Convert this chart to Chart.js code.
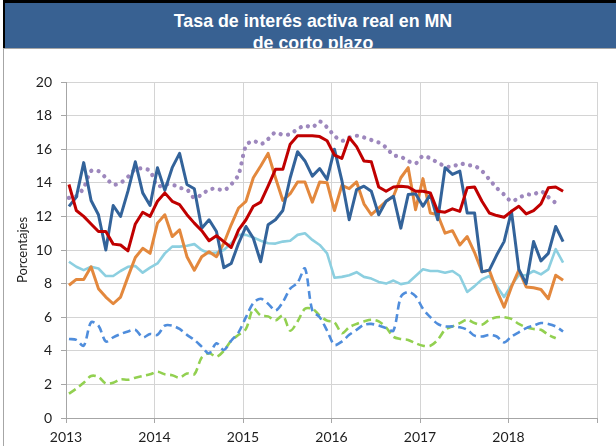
<!DOCTYPE html>
<html lang="es">
<head>
<meta charset="utf-8">
<title>Tasa de interés activa real en MN de corto plazo</title>
<script src="https://cdn.jsdelivr.net/npm/chart.js@4.4.1/dist/chart.umd.min.js"></script>
<style>
  html, body { margin: 0; padding: 0; background: #fff; }
  #page { position: relative; width: 616px; height: 446px; overflow: hidden; background: #fff; }
  #frame { position: absolute; left: 3px; top: 48px; width: 640px; height: 420px; border: 1px solid #a6a6a6; background: #fff; }
  #band { position: absolute; left: 3px; top: 0; width: 640px; height: 48px; background: #000; }
  #bar { position: absolute; left: 5px; top: 3px; width: 640px; height: 45px; background: #386192; overflow: hidden; }
  #title { position: absolute; left: 0; top: 6.5px; width: 616px; text-align: center; color: #fff;
           font: bold 17.8px "Liberation Sans", Arial, sans-serif; line-height: 22px; }
  #chart { position: absolute; left: 0; top: 0; }
</style>
</head>
<body>
<div id="page">
  <div id="frame"></div>
  <div id="band"></div>
  <div id="bar"><div id="title">Tasa de interés activa real en MN<br>de corto plazo</div></div>
  <canvas id="chart" width="616" height="446"></canvas>
</div>
<script>
// Monthly observations, January 2013 to August 2018 (percent).
const years = ['2013', '2014', '2015', '2016', '2017', '2018'];
const yTicks = [0, 2, 4, 6, 8, 10, 12, 14, 16, 18, 20];

const serieRoja = [13.9, 12.35, 12.0, 11.55, 11.1, 11.1, 10.35, 10.3, 9.95, 11.55, 12.25, 12.0,
  12.9, 13.4, 12.9, 12.7, 12.1, 11.6, 11.15, 10.55, 10.85, 10.5, 10.15, 11.2,
  11.8, 12.6, 12.85, 13.8, 14.8, 14.8, 16.3, 16.8, 16.8, 16.8, 16.75, 16.5,
  15.65, 15.45, 16.7, 16.15, 15.3, 15.25, 13.75, 13.5, 13.75, 13.8, 13.75, 13.5,
  13.5, 13.4, 12.3, 12.25, 12.45, 12.3, 13.7, 13.75, 12.9, 12.2, 12.05, 11.95,
  12.3, 12.6, 12.15, 12.35, 12.75, 13.7, 13.75, 13.5];

const serieAzul = [12.6, 13.15, 15.2, 12.95, 12.1, 10.0, 12.65, 12.0, 13.5, 15.25, 13.4, 12.65,
  14.9, 13.55, 14.9, 15.75, 13.9, 13.65, 11.3, 11.8, 11.1, 8.95, 9.2, 10.4,
  11.4, 10.7, 9.3, 11.5, 11.8, 12.35, 14.3, 15.85, 15.3, 14.4, 14.85, 14.2,
  16.0, 14.15, 11.8, 13.6, 13.8, 13.5, 12.1, 12.9, 13.2, 11.3, 13.3, 13.35,
  12.6, 13.3, 11.8, 14.9, 14.5, 14.7, 12.2, 12.2, 8.7, 8.8, 9.7, 10.5,
  12.3, 8.85, 8.0, 10.5, 9.35, 9.8, 11.4, 10.5];

const serieNaranja = [7.9, 8.25, 8.25, 9.0, 7.7, 7.2, 6.8, 7.2, 8.4, 9.55, 10.1, 9.8,
  11.6, 12.1, 10.8, 11.2, 9.6, 8.8, 9.6, 9.9, 9.6, 10.4, 11.5, 12.5,
  12.9, 14.3, 15.0, 15.75, 14.3, 12.95, 13.35, 14.05, 14.05, 12.85, 14.05, 14.0,
  12.35, 13.85, 13.65, 14.05, 12.75, 12.1, 12.5, 12.9, 13.2, 14.3, 14.9, 12.4,
  14.25, 12.2, 12.1, 11.0, 11.15, 10.3, 10.8, 9.85, 8.7, 8.8, 7.6, 6.6,
  7.8, 8.8, 7.8, 7.75, 7.65, 7.1, 8.5, 8.2];

const serieCeleste = [9.3, 9.0, 8.8, 9.0, 8.9, 8.45, 8.45, 8.75, 9.0, 9.05, 8.65, 8.95,
  9.2, 9.8, 10.2, 10.2, 10.25, 10.35, 10.0, 9.8, 9.85, 10.0, 10.4, 10.9,
  10.9, 10.75, 10.55, 10.4, 10.38, 10.5, 10.55, 10.9, 11.0, 10.6, 10.3, 9.8,
  8.35, 8.4, 8.5, 8.68, 8.4, 8.3, 8.1, 8.0, 8.18, 7.97, 8.05, 8.45,
  8.85, 8.75, 8.75, 8.65, 8.75, 8.45, 7.5, 7.85, 8.25, 8.45, 7.85, 7.2,
  7.9, 8.5, 8.5, 8.75, 8.55, 8.85, 10.05, 9.25];

const serieAzulClaro = [4.7, 4.65, 4.3, 5.7, 5.5, 4.55, 4.8, 5.0, 5.15, 5.25, 4.8, 5.0,
  4.95, 5.5, 5.5, 5.3, 4.95, 4.65, 4.25, 3.85, 4.45, 4.05, 4.6, 5.1,
  6.0, 6.85, 7.1, 6.8, 6.4, 6.9, 7.7, 8.05, 8.9, 6.4, 6.0, 5.2,
  4.35, 4.55, 4.95, 5.25, 5.55, 5.6, 5.5, 5.35, 5.2, 7.2, 7.5, 7.25,
  6.5, 6.0, 5.6, 5.45, 5.45, 5.4, 5.25, 4.9, 4.85, 4.95, 4.85, 4.5,
  4.85, 5.1, 5.35, 5.5, 5.65, 5.6, 5.45, 5.15];

const serieVerde = [1.45, 1.75, 2.1, 2.5, 2.45, 2.05, 2.1, 2.3, 2.28, 2.4, 2.5, 2.6,
  2.75, 2.6, 2.55, 2.4, 2.65, 2.6, 3.6, 3.85, 3.65, 4.0, 4.6, 4.95,
  5.3, 6.5, 6.1, 6.05, 5.8, 6.1, 5.2, 5.75, 6.5, 6.5, 6.1, 5.8,
  5.7, 5.05, 5.4, 5.6, 5.75, 5.85, 5.75, 5.4, 4.83, 4.7, 4.65, 4.45,
  4.3, 4.3, 4.65, 5.25, 5.45, 5.65, 5.85, 5.65, 5.55, 5.85, 6.0, 6.0,
  5.9, 5.6, 5.4, 5.3, 5.25, 4.95, 4.75, null];

const serieMorada = [13.1, 13.2, 13.7, 14.7, 14.7, 14.3, 13.9, 14.0, 14.35, 14.8, 14.85, 14.7,
  13.8, 13.9, 13.9, 13.7, 13.6, 13.1, 13.3, 13.6, 13.65, 13.55, 13.9, 14.5,
  16.2, 16.5, 16.3, 16.6, 17.0, 16.85, 16.9, 17.2, 17.4, 17.3, 17.65, 17.3,
  16.8, 16.5, 16.7, 16.8, 16.7, 16.55, 16.4, 16.1, 15.65, 15.55, 15.3, 15.15,
  15.6, 15.45, 15.2, 15.0, 14.95, 15.15, 15.05, 15.0, 14.7, 14.2, 13.7, 13.3,
  12.9, 13.1, 13.3, 13.3, 13.5, 13.15, 12.8, null];

// Month index -> position on the time axis (month centred within its slot).
const toPoints = arr => arr.map((v, i) => ({ x: i + 0.4, y: v }));

const FONT = '"Lato", "Liberation Sans", Arial, sans-serif';

const datasets = [
  { data: toPoints(serieRoja), borderColor: '#c00000', borderWidth: 3, tension: 0 },
  { data: toPoints(serieAzul), borderColor: '#33639a', borderWidth: 3, tension: 0 },
  { data: toPoints(serieMorada), borderColor: '#9d87bd', borderWidth: 4.2, borderDash: [0.1, 7.4],
    borderCapStyle: 'round', tension: 0.3 },
  { data: toPoints(serieNaranja), borderColor: '#e3883d', borderWidth: 3, tension: 0 },
  { data: toPoints(serieCeleste), borderColor: '#8ccfe0', borderWidth: 2.6, tension: 0 },
  { data: toPoints(serieAzulClaro), borderColor: '#4f8ddc', borderWidth: 2.6, borderDash: [8, 4.5], tension: 0.3 },
  { data: toPoints(serieVerde), borderColor: '#92d050', borderWidth: 2.6, borderDash: [8, 4.5], tension: 0.3 }
].map(d => Object.assign({ pointRadius: 0, fill: false, spanGaps: false, borderJoinStyle: 'round' }, d));

new Chart(document.getElementById('chart'), {
  type: 'line',
  data: { datasets },
  options: {
    responsive: false,
    animation: false,
    events: [],
    layout: { padding: { left: 0, top: 82, right: 19, bottom: 0 }, autoPadding: false },
    plugins: { legend: { display: false }, tooltip: { enabled: false }, title: { display: false } },
    scales: {
      x: {
        type: 'linear', min: 0, max: 72,
        afterFit: s => { s.height = 28; },
        afterBuildTicks: s => { s.ticks = years.map((_, k) => ({ value: k * 12 })).concat([{ value: 72 }]); },
        ticks: {
          autoSkip: false, maxRotation: 0, padding: 6, color: '#1e1e1e',
          font: { family: FONT, size: 14 },
          callback: v => years[v / 12] || ''
        },
        grid: { color: '#d4d4d4', lineWidth: 1, tickLength: 5, tickColor: '#a6a6a6' },
        border: { display: true, color: '#a6a6a6', width: 1 }
      },
      y: {
        min: 0, max: 20,
        afterFit: s => { s.width = 66; },
        afterBuildTicks: s => { s.ticks = yTicks.map(v => ({ value: v })); },
        ticks: { padding: 9, color: '#1e1e1e', font: { family: FONT, size: 14 } },
        grid: { color: '#d4d4d4', lineWidth: 1, tickLength: 5, tickColor: '#a6a6a6' },
        border: { display: true, color: '#a6a6a6', width: 1 },
        title: { display: true, text: 'Porcentajes', color: '#1e1e1e',
                 font: { family: FONT, size: 13 }, padding: { top: 15, bottom: 0 } }
      }
    }
  }
});
</script>
</body>
</html>
